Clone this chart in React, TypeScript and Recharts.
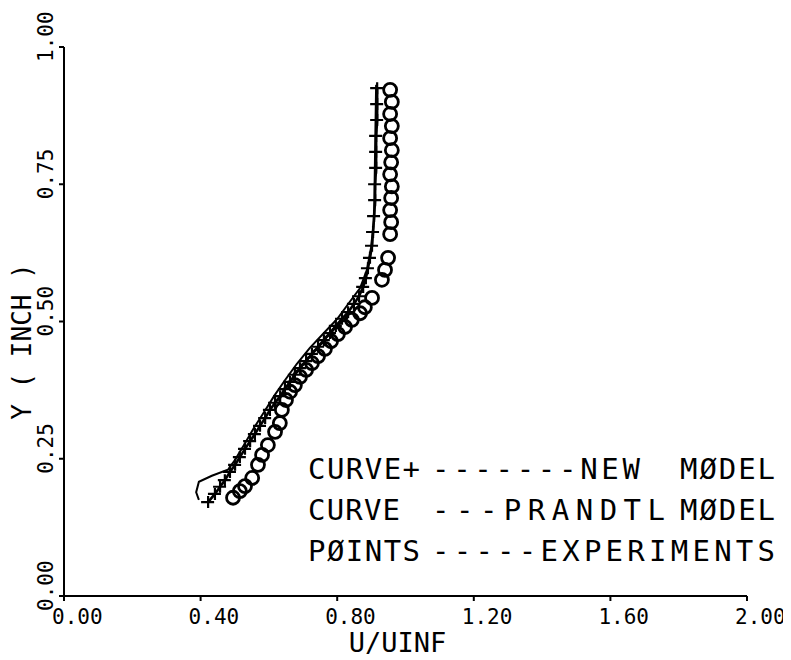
import React from "react";
import { ComposedChart, Line, Scatter, XAxis, YAxis } from "recharts";

// velocity profile U/UINF against height Y (inch)
const newModelU = [
  0.917, 0.917, 0.917, 0.914, 0.914, 0.914, 0.911, 0.911, 0.908, 0.905, 0.902,
  0.896, 0.89, 0.884, 0.876, 0.864, 0.849, 0.832, 0.814, 0.796, 0.779, 0.761,
  0.744, 0.726, 0.709, 0.691, 0.676, 0.662, 0.647, 0.633, 0.618, 0.603, 0.589,
  0.574, 0.559, 0.545, 0.53, 0.515, 0.501, 0.486, 0.471, 0.457, 0.442, 0.422,
];
const newModelY = [
  0.925, 0.896, 0.867, 0.838, 0.809, 0.78, 0.75, 0.721, 0.692, 0.663, 0.638,
  0.616, 0.597, 0.579, 0.563, 0.546, 0.532, 0.517, 0.505, 0.492, 0.479, 0.466,
  0.454, 0.441, 0.428, 0.415, 0.403, 0.39, 0.377, 0.364, 0.352, 0.339, 0.324,
  0.31, 0.295, 0.282, 0.268, 0.253, 0.239, 0.226, 0.211, 0.199, 0.186, 0.171,
];

const prandtlU = [
  0.914, 0.911, 0.908, 0.899, 0.887, 0.867, 0.837, 0.802, 0.761, 0.72, 0.682,
  0.647, 0.615, 0.586, 0.556, 0.527, 0.501, 0.48, 0.433, 0.395, 0.387, 0.395,
];
const prandtlY = [
  0.931, 0.812, 0.685, 0.634, 0.594, 0.561, 0.536, 0.506, 0.479, 0.452, 0.423,
  0.393, 0.364, 0.335, 0.306, 0.275, 0.248, 0.23, 0.219, 0.208, 0.189, 0.175,
];

const expU = [
  0.955, 0.96, 0.955, 0.96, 0.955, 0.96, 0.958, 0.955, 0.96, 0.958, 0.955, 0.958,
  0.955, 0.949, 0.94, 0.931, 0.902, 0.881, 0.867, 0.843, 0.823, 0.802, 0.782,
  0.764, 0.744, 0.726, 0.709, 0.691, 0.676, 0.662, 0.65, 0.638, 0.632, 0.618,
  0.597, 0.58, 0.568, 0.551, 0.53, 0.515, 0.495,
];
const expY = [
  0.922, 0.9, 0.878, 0.856, 0.834, 0.812, 0.79, 0.768, 0.746, 0.725, 0.703, 0.681,
  0.659, 0.616, 0.594, 0.576, 0.543, 0.526, 0.515, 0.503, 0.49, 0.477, 0.464,
  0.45, 0.437, 0.424, 0.412, 0.399, 0.384, 0.372, 0.357, 0.339, 0.315, 0.299,
  0.275, 0.257, 0.239, 0.215, 0.2, 0.191, 0.179,
];

const xTicks = [0, 0.4, 0.8, 1.2, 1.6, 2.0];
const yTicks = [0, 0.25, 0.5, 0.75, 1.0];

// legend rows, each split into [text, left, right] pieces
const legendRows: [string, number, number][][] = [
  [["CURVE+", 300, 412], ["-------NEW", 424, 632], ["MØDEL", 672, 767]],
  [["CURVE", 300, 392], ["---PRANDTL", 424, 657], ["MØDEL", 672, 767]],
  [["PØINTS", 300, 412], ["-----EXPERIMENTS", 424, 767]],
];

const zip = (us: number[], ys: number[]) => us.map((u, i) => ({ u, y: ys[i] }));
const newModel = zip(newModelU, newModelY);
const prandtl = zip(prandtlU, prandtlY);
const experiments = zip(expU, expY);

const FONT = "'DejaVu Sans Mono', 'Liberation Mono', monospace";
const INK = "#000";

function XTick({ x, y, payload }: any) {
  return (
    <text x={x - 12} y={y + 21} fontFamily={FONT} fontSize={21} fill={INK}>
      {Number(payload.value).toFixed(2)}
    </text>
  );
}

function YTick({ x, y, payload }: any) {
  const bx = x - 4;
  const by = y + 15;
  return (
    <text
      x={bx}
      y={by}
      transform={`rotate(-90, ${bx}, ${by})`}
      fontFamily={FONT}
      fontSize={21}
      fill={INK}
    >
      {Number(payload.value).toFixed(2)}
    </text>
  );
}

function PlusDot({ cx, cy, index }: any) {
  if (cx == null || cy == null) return null;
  return (
    <path
      key={`plus-${index}`}
      d={`M${cx - 7},${cy}H${cx + 6}M${cx},${cy - 6}V${cy + 6}`}
      stroke={INK}
      strokeWidth={2.2}
      fill="none"
    />
  );
}

function RingShape({ cx, cy }: any) {
  return <circle cx={cx} cy={cy} r={6.5} fill="none" stroke={INK} strokeWidth={2.8} />;
}

export default function App() {
  return (
    <div style={{ position: "relative", width: 783, height: 652, background: "#fff" }}>
      <ComposedChart
        width={783}
        height={652}
        margin={{ top: 39, right: 44, left: 0, bottom: 0 }}
      >
        <XAxis
          type="number"
          dataKey="u"
          domain={[0, 2]}
          ticks={xTicks}
          allowDataOverflow
          height={64}
          stroke={INK}
          strokeWidth={2}
          tickSize={5}
          tick={<XTick />}
          label={{
            content: ({ viewBox }: any) => (
              <text
                x={viewBox.x + viewBox.width / 2 - 8}
                y={644}
                textAnchor="middle"
                fontFamily={FONT}
                fontSize={27}
                fill={INK}
              >
                U/UINF
              </text>
            ),
          }}
        />
        <YAxis
          type="number"
          dataKey="y"
          domain={[0, 1]}
          ticks={yTicks}
          allowDataOverflow
          width={56}
          stroke={INK}
          strokeWidth={2}
          tickSize={5}
          tick={<YTick />}
          label={{
            content: ({ viewBox }: any) => {
              const bx = 23;
              const by = viewBox.y + viewBox.height / 2 + 20;
              return (
                <text
                  x={bx}
                  y={by}
                  transform={`rotate(-90, ${bx}, ${by})`}
                  textAnchor="middle"
                  fontFamily={FONT}
                  fontSize={26}
                  fill={INK}
                  style={{ whiteSpace: "pre" }}
                >
                  Y ( INCH )
                </text>
              );
            },
          }}
        />
        <Line
          data={prandtl}
          dataKey="y"
          type="linear"
          stroke={INK}
          strokeWidth={2}
          dot={false}
          activeDot={false}
          isAnimationActive={false}
        />
        <Line
          data={newModel}
          dataKey="y"
          type="linear"
          stroke={INK}
          strokeWidth={2.6}
          dot={PlusDot}
          activeDot={false}
          isAnimationActive={false}
        />
        <Scatter
          data={experiments}
          dataKey="y"
          shape={RingShape}
          isAnimationActive={false}
        />
      </ComposedChart>
      <svg
        width={783}
        height={652}
        style={{ position: "absolute", left: 0, top: 0, pointerEvents: "none" }}
      >
        {legendRows.map((row, i) =>
          row.map(([text, left, right]) => (
            <text
              key={`${i}-${text}`}
              x={left}
              y={471 + i * 41}
              textLength={right - left}
              lengthAdjust="spacing"
              fontFamily={FONT}
              fontSize={29}
              fill={INK}
            >
              {text}
            </text>
          ))
        )}
      </svg>
    </div>
  );
}
